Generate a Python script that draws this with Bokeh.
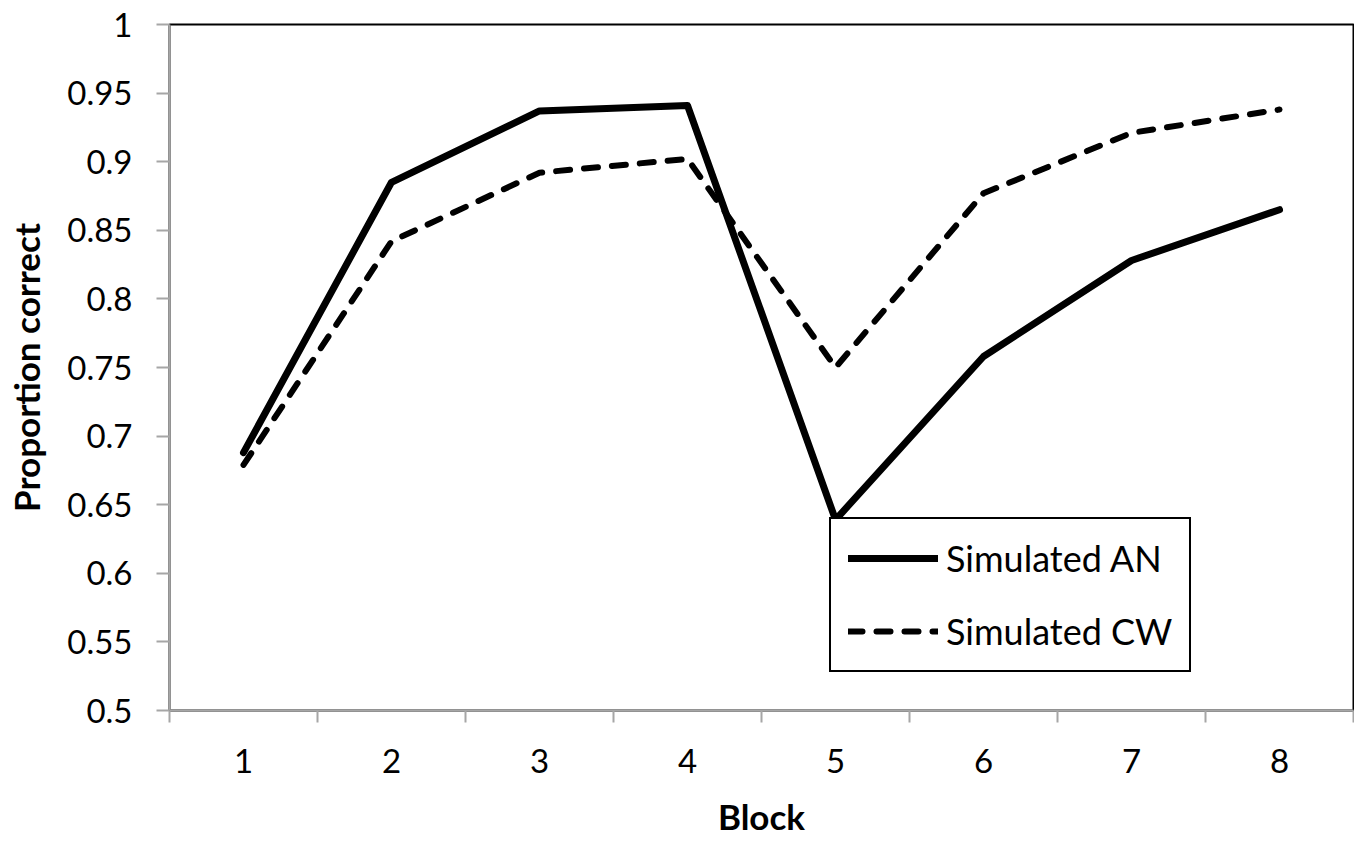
from bokeh.plotting import figure
from bokeh.models import FixedTicker, Legend, LegendItem
from bokeh.embed import file_html
from bokeh.resources import INLINE

blocks = [1, 2, 3, 4, 5, 6, 7, 8]
block_labels = ["1", "2", "3", "4", "5", "6", "7", "8"]
sim_an = [0.688, 0.885, 0.937, 0.941, 0.639, 0.758, 0.828, 0.865]
sim_cw = [0.679, 0.842, 0.892, 0.902, 0.750, 0.877, 0.921, 0.938]
y_ticks = [0.5, 0.55, 0.6, 0.65, 0.7, 0.75, 0.8, 0.85, 0.9, 0.95, 1.0]
y_tick_labels = ["0.5", "0.55", "0.6", "0.65", "0.7", "0.75", "0.8", "0.85", "0.9", "0.95", "1"]
series_names = ["Simulated AN", "Simulated CW"]

FONT = "Lato"
TICK_FS = "33px"
TITLE_FS = "35px"
LEGEND_FS = "36px"
AXIS_GREY = "#A6A6A6"

p = figure(width=1354, height=844, output_backend="svg", toolbar_location=None,
           x_range=(0.5, 8.5), y_range=(0.5, 1.0),
           min_border_left=169, min_border_right=1, min_border_top=24, min_border_bottom=134)

p.grid.grid_line_color = None
p.outline_line_color = "black"
p.outline_line_width = 2
p.outline_line_alpha = 1
p.background_fill_color = "white"
p.border_fill_color = "white"

# x axis: labels at category centres, ticks at category boundaries (minor)
p.xaxis.ticker = FixedTicker(ticks=blocks,
                             minor_ticks=[b - 0.5 for b in blocks] + [blocks[-1] + 0.5])
p.xaxis.major_label_overrides = {b: l for b, l in zip(blocks, block_labels)}
p.xaxis.major_tick_out = 12
p.xaxis.major_tick_in = 0
p.xaxis.major_tick_line_alpha = 0
p.xaxis.minor_tick_out = 12
p.xaxis.minor_tick_in = 0
p.xaxis.minor_tick_line_color = AXIS_GREY
p.xaxis.minor_tick_line_width = 2
p.xaxis.major_label_standoff = 26
p.xaxis.axis_label = "Block"
p.xaxis.axis_label_standoff = 19

# y axis
p.yaxis.ticker = FixedTicker(ticks=y_ticks, minor_ticks=[])
p.yaxis.major_label_overrides = {t: l for t, l in zip(y_ticks, y_tick_labels)}
p.yaxis.major_tick_out = 13
p.yaxis.major_tick_in = 0
p.yaxis.major_tick_line_color = AXIS_GREY
p.yaxis.major_tick_line_width = 2
p.yaxis.major_label_standoff = 24
p.yaxis.axis_label = "Proportion correct"
p.yaxis.axis_label_standoff = 17

for ax in (p.xaxis, p.yaxis):
    ax.axis_line_color = AXIS_GREY
    ax.axis_line_width = 2
    ax.major_label_text_font = FONT
    ax.major_label_text_font_size = TICK_FS
    ax.major_label_text_color = "black"
    ax.axis_label_text_font = FONT
    ax.axis_label_text_font_size = TITLE_FS
    ax.axis_label_text_font_style = "bold"
    ax.axis_label_text_color = "black"

r_an = p.line(blocks, sim_an, line_color="black", line_width=7,
              line_join="round", line_cap="round")
r_cw = p.line(blocks, sim_cw, line_color="black", line_width=6,
              line_dash="14 14", line_join="round", line_cap="round")

legend = Legend(items=[LegendItem(label=series_names[0], renderers=[r_an]),
                       LegendItem(label=series_names[1], renderers=[r_cw])],
                location=(660, 38))
legend.label_text_font = FONT
legend.label_text_font_size = LEGEND_FS
legend.label_text_color = "black"
legend.glyph_width = 90
legend.glyph_height = 20
legend.label_height = 20
legend.label_standoff = 8
legend.padding = 17
legend.margin = 0
legend.spacing = 29
legend.border_line_color = "black"
legend.border_line_alpha = 1
legend.border_line_width = 2
legend.background_fill_alpha = 1
legend.background_fill_color = "white"
p.add_layout(legend, "center")

open("out.html", "w").write(file_html(p, INLINE))
